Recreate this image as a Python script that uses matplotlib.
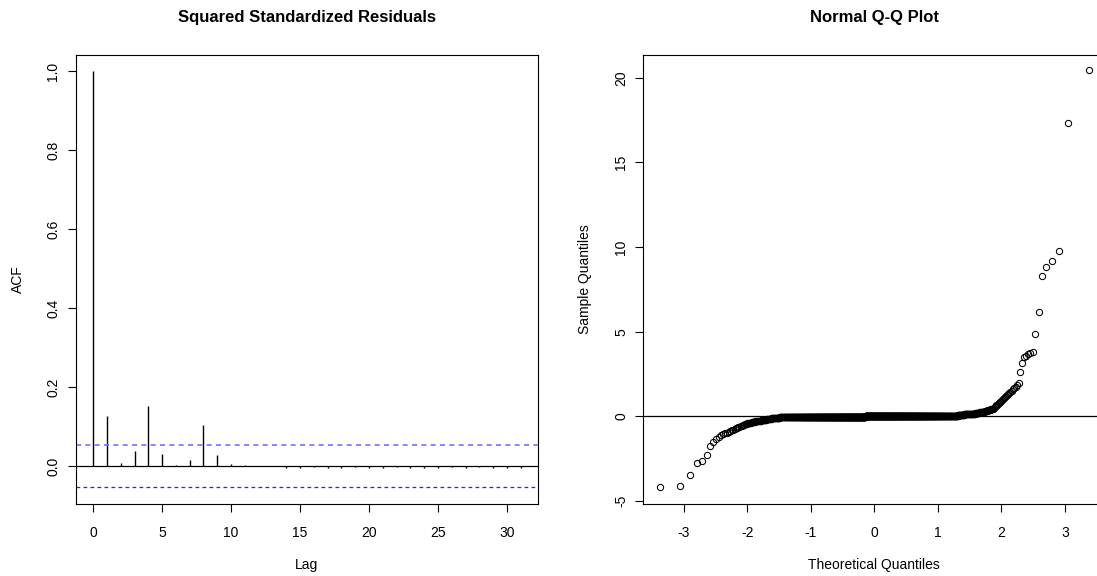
#!/usr/bin/env python3
"""
ACF der quadrierten standardisierten Residuen und Normal-Q-Q-Plot
(Nachbau einer R-Grafik mit matplotlib).
"""
from statistics import NormalDist

import numpy as np
import matplotlib.pyplot as plt

plt.rcParams["font.family"] = ["Liberation Sans", "DejaVu Sans"]
plt.rcParams["font.size"] = 10
plt.rcParams["axes.unicode_minus"] = False

# =============================================================================
# Daten – links: ACF
# =============================================================================

ACF_LAGS = list(range(32))
ACF_VALUES = [1.0, 0.128, 0.0085, 0.038, 0.153, 0.031, 0.002, 0.015,
              0.105, 0.028, 0.006, 0.003, 0.001, 0.001, -0.004, -0.004,
              -0.003, -0.004, -0.004, -0.003, -0.004, -0.004, -0.003, -0.004,
              -0.004, -0.004, -0.003, -0.004, -0.003, -0.004, -0.004, -0.004]
CI_BOUND = 0.0537          # 1.96 / sqrt(n)

# =============================================================================
# Daten – rechts: sortierte Stichprobe (Q-Q)
# =============================================================================

# einzelne Ausreißer unten (aufsteigend)
LOWER_TAIL = [-4.19, -4.10, -3.47, -2.74, -2.62, -2.29, -1.74, -1.50, -1.34,
              -1.20, -1.10, -1.05, -1.00, -0.96, -0.91, -0.87, -0.83, -0.79,
              -0.75, -0.72, -0.69, -0.66, -0.62, -0.58, -0.55, -0.52, -0.50,
              -0.48, -0.46, -0.44]
# dichter Mittelteil: Wert und Anzahl
CORE_VALUES = [-0.40, -0.34, -0.29, -0.25, -0.21, -0.16, -0.12, -0.09, -0.07,
               -0.05, -0.04, -0.03, -0.02, -0.01, 0.00, 0.01, 0.02, 0.04,
               0.07, 0.11, 0.16, 0.21, 0.27, 0.33, 0.39, 0.46]
CORE_COUNTS = [5, 5, 5, 5, 10, 10, 10, 10, 20,
               30, 50, 150, 250, 250, 205, 100, 40, 20,
               20, 20, 10, 10, 10, 5, 5, 5]
# einzelne Ausreißer oben (aufsteigend)
UPPER_TAIL = [0.52, 0.56, 0.60, 0.64, 0.68, 0.72, 0.77, 0.82, 0.87, 0.92,
              0.97, 1.02, 1.08, 1.14, 1.20, 1.27, 1.33, 1.40, 1.46, 1.52,
              1.60, 1.68, 1.76, 1.85, 1.95, 2.64, 3.13, 3.50, 3.58, 3.66,
              3.74, 3.82, 4.84, 6.15, 8.27, 8.80, 9.17, 9.76, 17.34, 20.44]

sample = np.concatenate([LOWER_TAIL, np.repeat(CORE_VALUES, CORE_COUNTS), UPPER_TAIL])
n = len(sample)
# theoretische Quantile wie R qqnorm (ppoints, a = 0.5)
theo = np.array([NormalDist().inv_cdf((i - 0.5) / n) for i in range(1, n + 1)])

# =============================================================================
# Plot
# =============================================================================

W, H = 1097, 576
fig = plt.figure(figsize=(W / 100, H / 100), dpi=100)

ax1 = fig.add_axes([75.5 / W, 1 - 504 / H, 462 / W, 449.3 / H])
ax2 = fig.add_axes([643 / W, 1 - 504 / H, 462.7 / W, 449.3 / H])

for ax in (ax1, ax2):
    for s in ax.spines.values():
        s.set_linewidth(0.8)
    ax.tick_params(length=5.8, width=0.8, direction="out")
    ax.tick_params(axis="x", pad=10.2)
    ax.tick_params(axis="y", pad=5)

# --- ACF ---
ax1.vlines(ACF_LAGS, 0, ACF_VALUES, color="black", linewidth=1)
ax1.axhline(0, color="black", linewidth=0.9)
ax1.axhline(CI_BOUND, color=(0.45, 0.45, 1.0), linewidth=1.2, dashes=(3, 2.6))
ax1.axhline(-CI_BOUND, color=(0.15, 0.15, 0.9), linewidth=0.9, dashes=(3, 2.6))
ax1.set_xlim(-1.28, 32.22)
ax1.set_ylim(-0.096, 1.042)
ax1.set_xticks([0, 5, 10, 15, 20, 25, 30])
yt1 = [0.0, 0.2, 0.4, 0.6, 0.8, 1.0]
ax1.set_yticks(yt1, [f"{v:.1f}" for v in yt1], rotation=90, va="center")
ax1.set_xlabel("Lag", labelpad=13)
ax1.set_ylabel("ACF", labelpad=15.5)
ax1.set_title("Squared Standardized Residuals", fontsize=12, fontweight="bold", pad=23.8)

# --- Q-Q ---
ax2.plot(theo, sample, linestyle="none", marker="o", markersize=4.5,
         markerfacecolor="none", markeredgecolor="black", markeredgewidth=0.75)
ax2.axhline(0, color="black", linewidth=0.9)
ax2.set_xlim(-3.64, 3.64)
ax2.set_ylim(-5.18, 21.36)
ax2.set_xticks([-3, -2, -1, 0, 1, 2, 3])
yt2 = [-5, 0, 5, 10, 15, 20]
ax2.set_yticks(yt2, [str(v) for v in yt2], rotation=90, va="center")
ax2.set_xlabel("Theoretical Quantiles", labelpad=13)
ax2.set_ylabel("Sample Quantiles", labelpad=15.5)
ax2.set_title("Normal Q-Q Plot", fontsize=12, fontweight="bold", pad=23.8)

fig.savefig("out.png", dpi=100)
